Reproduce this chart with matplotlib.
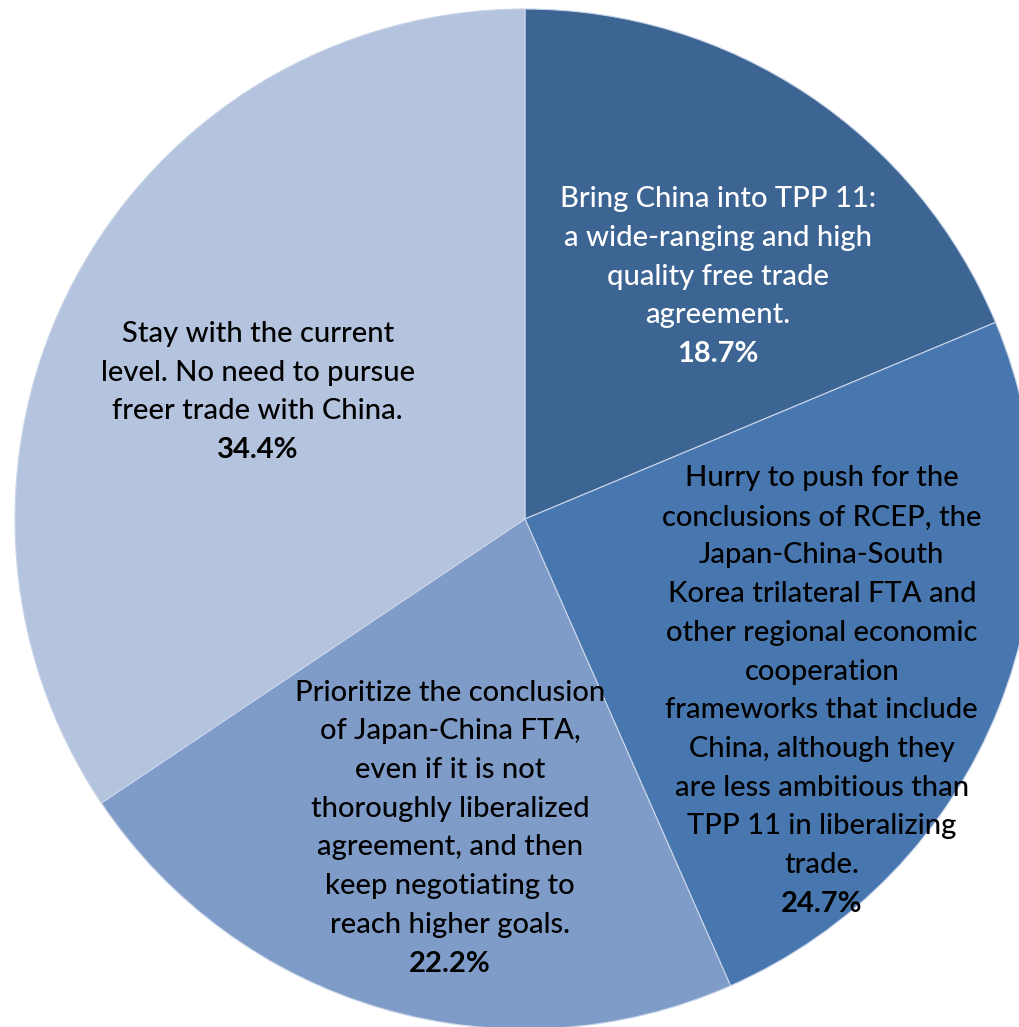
import matplotlib
matplotlib.use("Agg")
import matplotlib.pyplot as plt
import numpy as np

labels = [
    "Bring China into TPP 11:\na wide-ranging and high\nquality free trade\nagreement.",
    "Hurry to push for the\nconclusions of RCEP, the\nJapan-China-South\nKorea trilateral FTA and\nother regional economic\ncooperation\nframeworks that include\nChina, although they\nare less ambitious than\nTPP 11 in liberalizing\ntrade.",
    "Prioritize the conclusion\nof Japan-China FTA,\neven if it is not\nthoroughly liberalized\nagreement, and then\nkeep negotiating to\nreach higher goals.",
    "Stay with the current\nlevel. No need to pursue\nfreer trade with China.",
]
values = [18.7, 24.7, 22.2, 34.4]
colors = ["#3D6594", "#4877B0", "#7F9CC9", "#B4C3DE"]
text_colors = ["white", "black", "black", "black"]
# label block centres, in units of the pie radius
label_pos = [(0.378, 0.475), (0.582, -0.337), (-0.147, -0.606), (-0.524, 0.249)]

plt.rcParams['font.family'] = ['Lato', 'DejaVu Sans']

W, H = 1020, 1027
fig = plt.figure(figsize=(W / 100, H / 100), dpi=100)
cx, cy, r = 525, 1027 - 519, 510
ax = fig.add_axes([(cx - r) / W, (cy - r) / H, 2 * r / W, 2 * r / H])
ax.pie(values, colors=colors, startangle=90, counterclock=False, radius=1,
       wedgeprops=dict(edgecolor="#C8D4E8", linewidth=0.8))
ax.set_xlim(-1, 1)
ax.set_ylim(-1, 1)
ax.set_aspect('auto')
ax.axis('off')

fs = 21
step = 38.7 / r
for lab, v, (x, y), tc in zip(labels, values, label_pos, text_colors):
    lines = lab.split("\n") + [f"{v:.1f}%"]
    n = len(lines)
    top = y + (n - 1) * step / 2
    for i, line in enumerate(lines):
        bold = (i == n - 1)
        ax.text(x, top - i * step, line, ha='center', va='center',
                fontsize=fs, color=tc,
                fontweight='bold' if bold else 'medium')

fig.savefig("out.png", dpi=100)
